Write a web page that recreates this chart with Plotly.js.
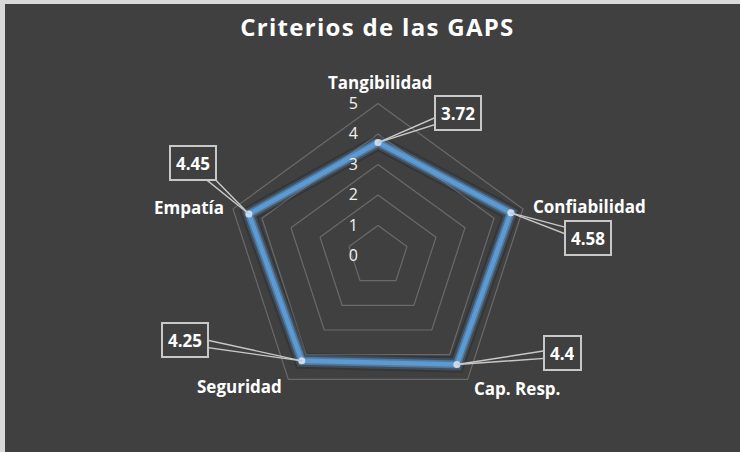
<!DOCTYPE html>
<html>
<head>
<meta charset="utf-8">
<script src="https://cdn.plot.ly/plotly-3.0.1.min.js"></script>
<style>html,body{margin:0;padding:0;background:#404040;}#chart{width:740px;height:452px;}
.gtitle{letter-spacing:1.3px;}</style>
</head>
<body>
<div id="chart"></div>
<script>
// ---- data ----
var categories = ["Tangibilidad", "Confiabilidad", "Cap. Resp.", "Seguridad", "Empatía"];
var values = [3.72, 4.58, 4.4, 4.25, 4.45];
var valueLabels = ["3.72", "4.58", "4.4", "4.25", "4.45"];
var radialTicks = [0, 1, 2, 3, 4, 5];
var radialMax = 5;

// ---- layout constants ----
var labelOffsets = [[80, -30], [77, 25], [106, -12], [-117, -21], [-56, -51]];
var catAnchors = [
  {xanchor: "center", yanchor: "bottom", xshift: 2, yshift: 8},
  {xanchor: "left", yanchor: "middle", xshift: 8, yshift: 2},
  {xanchor: "left", yanchor: "middle", xshift: 4, yshift: -9},
  {xanchor: "right", yanchor: "middle", xshift: -4, yshift: -7},
  {xanchor: "right", yanchor: "middle", xshift: -7, yshift: 1}
];
var domX = [0.3047, 0.7169], domY = [0.0963, 0.771];
var FONT = "'Open Sans', Lato, sans-serif";
var BLUE = "#5b9bd5";

var rClosed = values.concat([values[0]]);
var tClosed = categories.concat([categories[0]]);

var traces = [
  {type: "scatterpolar", r: rClosed, theta: tClosed, mode: "lines", hoverinfo: "skip",
   line: {color: "rgba(0,0,0,0.15)", width: 16}, showlegend: false},
  {type: "scatterpolar", r: rClosed, theta: tClosed, mode: "lines", hoverinfo: "skip",
   line: {color: "rgba(91,155,213,0.25)", width: 12}, showlegend: false},
  {type: "scatterpolar", r: rClosed, theta: tClosed, mode: "lines", hoverinfo: "skip",
   line: {color: "rgba(110,170,230,0.45)", width: 8}, showlegend: false},
  {type: "scatterpolar", r: rClosed, theta: tClosed, mode: "lines", hoverinfo: "skip",
   line: {color: BLUE, width: 4.5}, showlegend: false},
  {type: "scatterpolar", r: values, theta: categories, mode: "markers", hoverinfo: "skip",
   marker: {color: "#c9dbee", size: 7}, showlegend: false}
];

function angleOf(i) { return (90 - 72 * i) * Math.PI / 180; }

// annotation positions computed from the data via a hidden cartesian overlay
var annotations = [];
categories.forEach(function (c, i) {
  var a = angleOf(i);
  annotations.push(Object.assign({xref: "x", yref: "y", x: radialMax * Math.cos(a), y: radialMax * Math.sin(a),
    text: "<b>" + c + "</b>", showarrow: false,
    font: {family: FONT, size: 17, color: "#ffffff"}}, catAnchors[i]));
});
values.forEach(function (v, i) {
  var a = angleOf(i);
  var x = v * Math.cos(a), y = v * Math.sin(a);
  var dx = labelOffsets[i][0], dy = labelOffsets[i][1];
  var len = Math.sqrt(dx * dx + dy * dy);
  var px = -dy / len * 4.5, py = dx / len * 4.5;
  [1, -1].forEach(function (s) {
    annotations.push({xref: "x", yref: "y", x: x, y: y, text: "", showarrow: true,
      ax: dx + s * px, ay: dy + s * py, arrowhead: 0, arrowwidth: 1.4,
      arrowcolor: "#c8c8c8", standoff: 0, startstandoff: 0});
  });
});
values.forEach(function (v, i) {
  var a = angleOf(i);
  annotations.push({xref: "x", yref: "y", x: v * Math.cos(a), y: v * Math.sin(a),
    text: "<b>" + valueLabels[i] + "</b>", showarrow: true, arrowwidth: 0.1, arrowcolor: "rgba(0,0,0,0)",
    ax: labelOffsets[i][0], ay: labelOffsets[i][1],
    font: {family: FONT, size: 17, color: "#ffffff"}, height: 22,
    bgcolor: "#404040", bordercolor: "#c8c8c8", borderwidth: 2, borderpad: 5});
});

var layout = {
  width: 740, height: 452,
  margin: {l: 0, r: 0, t: 0, b: 0},
  paper_bgcolor: "#404040", plot_bgcolor: "rgba(0,0,0,0)",
  showlegend: false,
  title: {text: "<b>Criterios de las GAPS</b>", x: 0.51, xanchor: "center", y: 0.94, yanchor: "middle",
          font: {family: FONT, size: 24, color: "#ffffff"}},
  polar: {
    domain: {x: domX, y: domY},
    bgcolor: "rgba(0,0,0,0)",
    gridshape: "linear",
    radialaxis: {range: [0, radialMax], tickvals: radialTicks, ticktext: radialTicks.map(String),
      angle: 90, tickangle: 90, side: "counterclockwise", showline: false,
      ticks: "outside", ticklen: 14, tickcolor: "rgba(0,0,0,0)",
      showgrid: true, gridcolor: "#6a6a6a", gridwidth: 1.2,
      tickfont: {family: FONT, size: 16, color: "#f2f2f2"}},
    angularaxis: {rotation: 90, direction: "clockwise", showline: true, linecolor: "#6a6a6a", linewidth: 1.2,
      showgrid: false, ticks: "", showticklabels: false}
  },
  xaxis: {domain: domX, range: [-5, 5], visible: false, fixedrange: true},
  yaxis: {domain: domY, range: [-5, 5], visible: false, fixedrange: true},
  annotations: annotations,
  shapes: [
    {type: "rect", xref: "paper", yref: "paper", x0: 0, x1: 1, y0: 1 - 4 / 452, y1: 1,
     fillcolor: "#d9d9d9", line: {width: 0}, layer: "above"},
    {type: "rect", xref: "paper", yref: "paper", x0: 0, x1: 5 / 740, y0: 0, y1: 1,
     fillcolor: "#d9d9d9", line: {width: 0}, layer: "above"}
  ]
};

Plotly.newPlot("chart", traces, layout, {staticPlot: true, displayModeBar: false});
</script>
</body>
</html>
